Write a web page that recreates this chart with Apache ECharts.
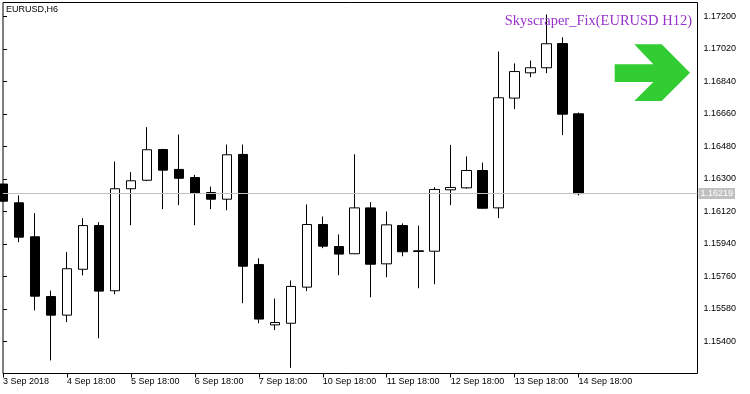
<!DOCTYPE html>
<html><head><meta charset="utf-8">
<script src="https://cdn.jsdelivr.net/npm/echarts@6/dist/echarts.min.js"></script>
<style>html,body{margin:0;padding:0;background:#fff}#c{width:750px;height:394px}</style>
</head><body><div id="c"></div>
<script>
// ---- data ----
const symbolTitle = 'EURUSD,H6';
const indicatorTitle = 'Skyscraper_Fix(EURUSD H12)';
const xTickLabels = ['3 Sep 2018','4 Sep 18:00','5 Sep 18:00','6 Sep 18:00','7 Sep 18:00','10 Sep 18:00','11 Sep 18:00','12 Sep 18:00','13 Sep 18:00','14 Sep 18:00'];
const opens  = [1.16272,1.16168,1.15980,1.15649,1.15546,1.15800,1.16042,1.15681,1.16246,1.16293,1.16463,1.16353,1.16308,1.16225,1.16188,1.16436,1.15826,1.15492,1.15501,1.15701,1.16048,1.15926,1.15886,1.16140,1.15830,1.16042,1.15902,1.15900,1.16240,1.16251,1.16347,1.16140,1.16748,1.16888,1.16916,1.17050,1.16661];
const closes = [1.16177,1.15978,1.15651,1.15546,1.15803,1.16042,1.15679,1.16246,1.16290,1.16462,1.16349,1.16304,1.16221,1.16188,1.16434,1.15817,1.15524,1.15505,1.15705,1.16048,1.15928,1.15884,1.16140,1.15828,1.16046,1.15897,1.15899,1.16242,1.16253,1.16347,1.16138,1.16750,1.16895,1.16916,1.17049,1.16659,1.16219];
const highs  = [1.16272,1.16209,1.16111,1.15682,1.15895,1.16083,1.16061,1.16397,1.16338,1.16587,1.16467,1.16546,1.16323,1.16258,1.16491,1.16491,1.15861,1.15638,1.15738,1.16159,1.16092,1.15993,1.16437,1.16172,1.16120,1.16054,1.16042,1.16255,1.16489,1.16425,1.16391,1.17006,1.16940,1.16956,1.17211,1.17085,1.16668];
const lows   = [1.16175,1.15950,1.15572,1.15295,1.15507,1.15766,1.15418,1.15662,1.16044,1.16288,1.16133,1.16155,1.16044,1.16133,1.16127,1.15612,1.15501,1.15463,1.15254,1.15679,1.15917,1.15767,1.15884,1.15645,1.15756,1.15872,1.15695,1.15717,1.16155,1.16246,1.16136,1.16083,1.16687,1.16864,1.16886,1.16543,1.16209];
const yTicks = [1.15400,1.15580,1.15760,1.15940,1.16120,1.16300,1.16480,1.16660,1.16840,1.17020,1.17200];

// ---- build ----
const candles = opens.map((o, i) => [i, o, closes[i], lows[i], highs[i]]);
const lastClose = closes[closes.length - 1];
const xTickIdx = xTickLabels.map((_, k) => k * 4);
const FONT = '"Liberation Sans", Arial, sans-serif';

const chart = echarts.init(document.getElementById('c'), null, {renderer: 'canvas'});
chart.setOption({
  animation: false,
  backgroundColor: '#fff',
  textStyle: {fontFamily: FONT},
  grid: {left: 2.5, top: 2.5, width: 695, height: 371, show: true, borderColor: '#000', borderWidth: 1, backgroundColor: '#fff'},
  xAxis: {
    type: 'value', min: 0, max: 695 / 16,
    axisLine: {show: false}, splitLine: {show: false},
    axisTick: {show: true, customValues: xTickIdx, length: 4, lineStyle: {color: '#000', width: 1}},
    axisLabel: {customValues: xTickIdx, formatter: v => xTickLabels[Math.round(v / 4)] || '', align: 'left', margin: 4, color: '#000', fontSize: 9, fontFamily: FONT}
  },
  yAxis: {
    type: 'value', position: 'right', min: 1.152227, max: 1.172775,
    axisLine: {show: false}, splitLine: {show: false},
    axisTick: {show: true, customValues: yTicks, length: 4, lineStyle: {color: '#000', width: 1}},
    axisLabel: {customValues: yTicks, formatter: v => v.toFixed(5), margin: 6, color: '#000', fontSize: 9, fontFamily: FONT}
  },
  series: [
    {
      type: 'line', data: [], silent: true, z: 1,
      markLine: {
        silent: true, symbol: ['none', 'none'], animation: false, precision: 5,
        lineStyle: {color: '#c0c0c0', type: 'solid', width: 1},
        label: {position: 'end', formatter: () => lastClose.toFixed(5), backgroundColor: '#c0c0c0', color: '#fff', fontSize: 9, fontFamily: FONT, padding: [1, 2, 1, 2], distance: 1},
        emphasis: {disabled: true},
        data: [{yAxis: lastClose}]
      }
    },
    {
      type: 'candlestick', data: candles, barWidth: 10, clip: false, z: 3,
      itemStyle: {color: '#fff', color0: '#000', borderColor: '#000', borderColor0: '#000', borderWidth: 1},
      emphasis: {disabled: true}
    }
  ],
  graphic: [
    {type: 'text', x: 6, y: 10, z: 10, style: {text: symbolTitle, textVerticalAlign: 'middle', font: '9px ' + FONT, fill: '#000'}},
    {type: 'text', x: 692, y: 21, z: 10, style: {text: indicatorTitle, textAlign: 'right', textVerticalAlign: 'middle', font: '14.5px "Liberation Serif", serif', fill: '#9932CC'}},
    {type: 'polygon', z: 10, shape: {points: [[614.7,64.3],[653.3,64.3],[634.3,44.3],[661.7,44.3],[690,72.7],[661.7,101],[634.3,101],[653.3,82],[614.7,82]]}, style: {fill: '#32CD32'}}
  ]
});
</script>
</body></html>
